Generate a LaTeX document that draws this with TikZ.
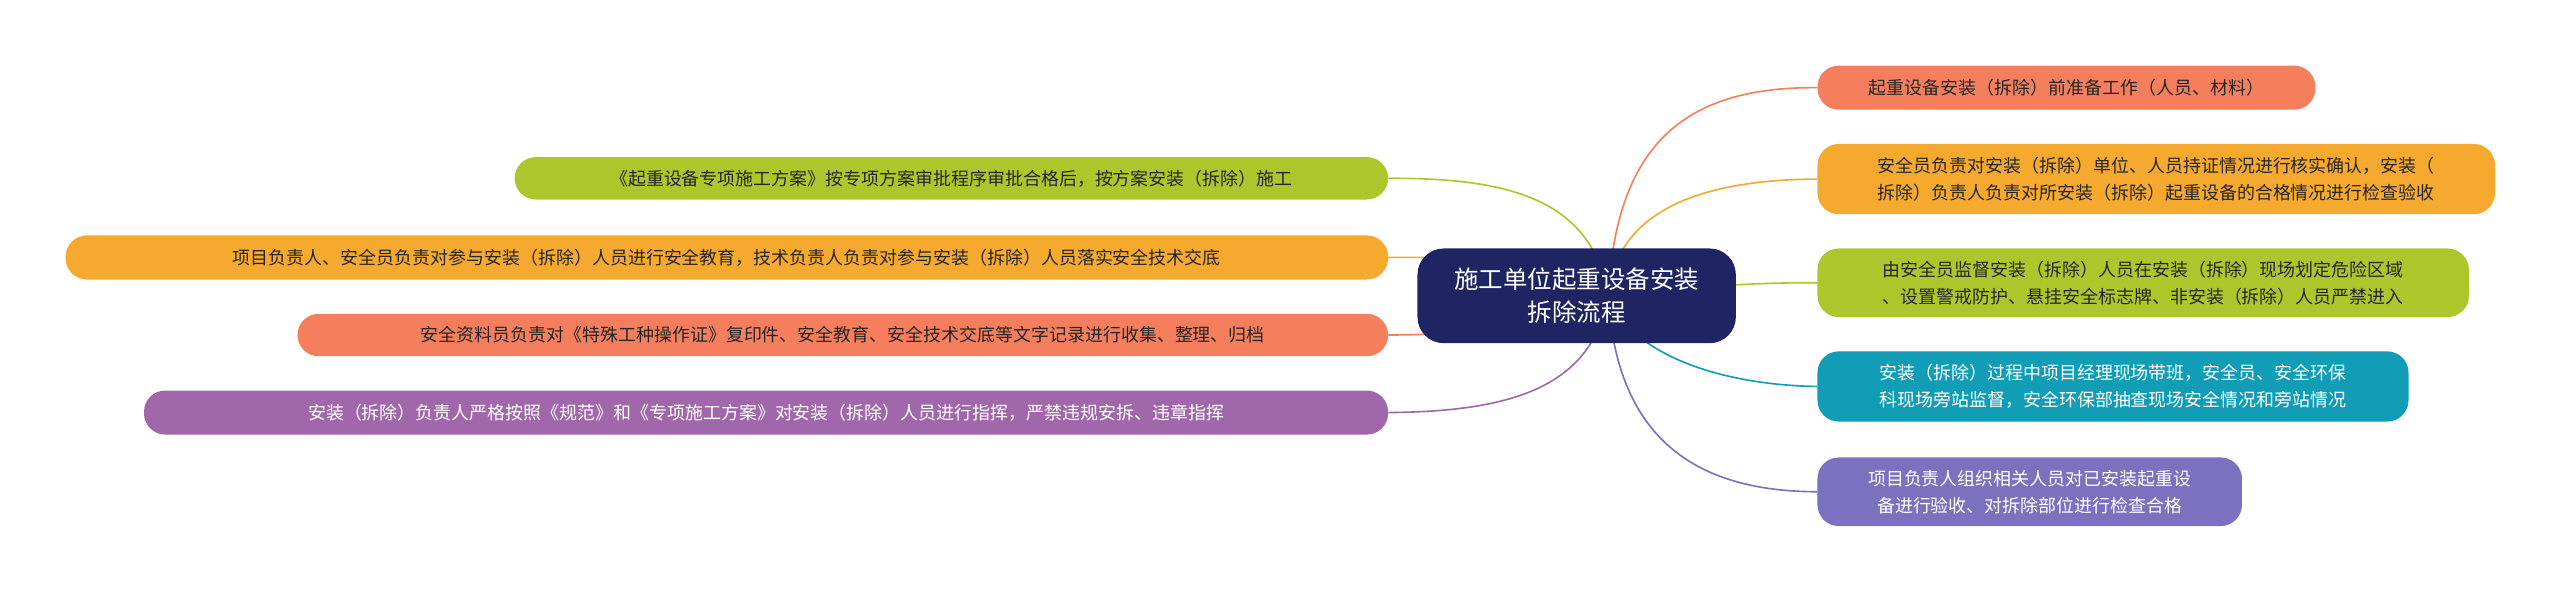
\documentclass[tikz,border=0pt]{standalone}
\usepackage{fontspec}
\setmainfont{Noto Sans CJK SC}
\usetikzlibrary{backgrounds}
\begin{document}
\begin{tikzpicture}[x=1pt,y=-1pt,
 box/.style={draw=none,rounded corners=13pt,anchor=north west,inner sep=0pt,align=center,font=\fontsize{11}{16.5}\selectfont,text=black!85},
 con/.style={line width=1pt}]
\useasboundingbox (0,0) rectangle (1568,363);
\definecolor{cOr}{HTML}{F57E5C}\definecolor{cYe}{HTML}{F5A92E}\definecolor{cGr}{HTML}{ADC62C}
\definecolor{cTe}{HTML}{129DB6}\definecolor{cPu}{HTML}{7A72BF}\definecolor{cPl}{HTML}{A067AA}\definecolor{cNa}{HTML}{1F2462}
\node[box,fill=cNa,text=white,rounded corners=16pt,minimum width=195pt,minimum height=58pt,font=\fontsize{15}{20}\selectfont] (c) at (868,152) {施工单位起重设备安装\\拆除流程};
\node[box,fill=cOr,minimum width=305pt,minimum height=27pt] (r1) at (1113,40) {起重设备安装（拆除）前准备工作（人员、材料）};
\node[box,fill=cYe,minimum width=415pt,minimum height=43pt] (r2) at (1113,88) {安全员负责对安装（拆除）单位、人员持证情况进行核实确认，安装（\\拆除）负责人负责对所安装（拆除）起重设备的合格情况进行检查验收};
\node[box,fill=cGr,minimum width=399pt,minimum height=42pt] (r3) at (1113,152) {由安全员监督安装（拆除）人员在安装（拆除）现场划定危险区域\\、设置警戒防护、悬挂安全标志牌、非安装（拆除）人员严禁进入};
\node[box,fill=cTe,text=white,minimum width=362pt,minimum height=43pt] (r4) at (1113,215) {安装（拆除）过程中项目经理现场带班，安全员、安全环保\\科现场旁站监督，安全环保部抽查现场安全情况和旁站情况};
\node[box,fill=cPu,text=white,minimum width=260pt,minimum height=42pt] (r5) at (1113,280) {项目负责人组织相关人员对已安装起重设\\备进行验收、对拆除部位进行检查合格};
\node[box,fill=cGr,minimum width=535pt,minimum height=26pt] (l1) at (315,96) {《起重设备专项施工方案》按专项方案审批程序审批合格后，按方案安装（拆除）施工};
\node[box,fill=cYe,minimum width=810pt,minimum height=27pt] (l2) at (40,144) {项目负责人、安全员负责对参与安装（拆除）人员进行安全教育，技术负责人负责对参与安装（拆除）人员落实安全技术交底};
\node[box,fill=cOr,minimum width=668pt,minimum height=26pt] (l3) at (182,192) {安全资料员负责对《特殊工种操作证》复印件、安全教育、安全技术交底等文字记录进行收集、整理、归档};
\node[box,fill=cPl,text=white,minimum width=762pt,minimum height=27pt] (l4) at (88,239) {安装（拆除）负责人严格按照《规范》和《专项施工方案》对安装（拆除）人员进行指挥，严禁违规安拆、违章指挥};
\begin{scope}[on background layer]
\coordinate (s) at (985,181);
\draw[con,cOr] (s) .. controls (990,90) and (1030,53) .. (r1.west);
\draw[con,cYe] (s) .. controls (990,130) and (1040,110) .. (r2.west);
\draw[con,cGr] (s) .. controls (1040,175) and (1080,173) .. (r3.west);
\draw[con,cTe] (s) .. controls (1000,220) and (1060,236) .. (r4.west);
\draw[con,cPu] (s) .. controls (990,270) and (1040,301) .. (r5.west);
\draw[con,cGr] (s) .. controls (975,120) and (920,109) .. (l1.east);
\draw[con,cYe] (s) .. controls (960,160) and (900,157) .. (l2.east);
\draw[con,cOr] (s) .. controls (950,200) and (900,205) .. (l3.east);
\draw[con,cPl] (s) .. controls (975,240) and (920,252) .. (l4.east);
\end{scope}
\end{tikzpicture}
\end{document}
